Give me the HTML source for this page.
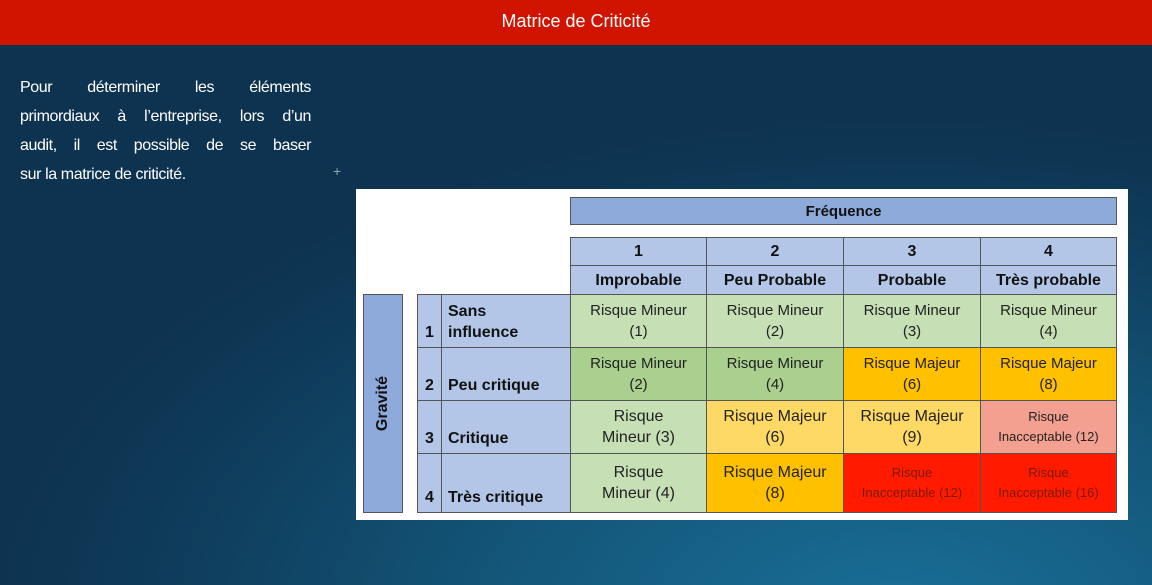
<!DOCTYPE html>
<html><head><meta charset="utf-8"><style>
*{margin:0;padding:0;box-sizing:border-box}
body{width:1152px;height:585px;overflow:hidden;position:relative;font-family:"Liberation Sans","DejaVu Sans",sans-serif;
background:radial-gradient(ellipse 900px 500px at 900px 620px,#1a6f98 0%,#135679 45%,#0f3d5c 80%,#0d3350 100%);}
.hdr{position:absolute;left:0;top:0;width:1152px;height:45px;background:#d01400;color:#fff;font-size:18px;text-align:center;line-height:42px}
.txt{position:absolute;left:20px;top:73px;width:291px;color:#fff;font-size:16px;line-height:29px;letter-spacing:-0.4px}
.txt div{text-align:justify;text-align-last:justify;white-space:nowrap}
.txt div.l{text-align-last:left}
.panel{position:absolute;left:356px;top:189px;width:772px;height:331px;background:#fff}
.c{position:absolute;display:flex;align-items:center;justify-content:center;text-align:center;color:#222;font-size:15px;line-height:21px;border:1px solid #555}
.b{font-weight:bold;color:#111}
.bl{background:#b4c6e7}
.g1{background:#c6dfb4}.g2{background:#a9d08e}.o{background:#ffc000}.y{background:#ffd966}.p{background:#f4a090}.r{background:#ff1a00;color:#7a1a00;font-size:13px;line-height:20px}
.rl{position:absolute;display:flex;align-items:flex-end;font-weight:bold;font-size:16px;color:#111;border:1px solid #555;background:#b4c6e7;padding:0 0 4px 6px;line-height:21px}
</style></head><body>
<div class="hdr">Matrice de Criticité</div>
<div class="txt"><div>Pour déterminer les éléments</div><div>primordiaux à l’entreprise, lors d’un</div><div>audit, il est possible de se baser</div><div class="l">sur la matrice de criticité.</div></div>
<div style="position:absolute;left:333px;top:163px;color:#8aa;font-size:14px">+</div>
<div class="panel"></div>
<div class="c b" style="left:570px;top:197px;width:547px;height:28px;background:#8eaadb;font-size:15px">Fréquence</div>
<div class="c b bl" style="left:570px;top:237px;width:137px;height:29px;font-size:16px">1</div>
<div class="c b bl" style="left:706px;top:237px;width:138px;height:29px;font-size:16px">2</div>
<div class="c b bl" style="left:843px;top:237px;width:138px;height:29px;font-size:16px">3</div>
<div class="c b bl" style="left:980px;top:237px;width:137px;height:29px;font-size:16px">4</div>
<div class="c b bl" style="left:570px;top:265px;width:137px;height:30px;font-size:16px">Improbable</div>
<div class="c b bl" style="left:706px;top:265px;width:138px;height:30px;font-size:16px">Peu Probable</div>
<div class="c b bl" style="left:843px;top:265px;width:138px;height:30px;font-size:16px">Probable</div>
<div class="c b bl" style="left:980px;top:265px;width:137px;height:30px;font-size:16px">Très probable</div>
<div class="c b" style="left:363px;top:294px;width:40px;height:219px;background:#8eaadb;font-size:16px"><span style="transform:rotate(-90deg);display:block;white-space:nowrap">Gravité</span></div>
<div class="rl" style="left:417px;top:294px;width:25px;height:54px;padding-left:7px">1</div>
<div class="rl" style="left:441px;top:294px;width:130px;height:54px">Sans<br>influence</div>
<div class="rl" style="left:417px;top:347px;width:25px;height:54px;padding-left:7px">2</div>
<div class="rl" style="left:441px;top:347px;width:130px;height:54px">Peu critique</div>
<div class="rl" style="left:417px;top:400px;width:25px;height:54px;padding-left:7px">3</div>
<div class="rl" style="left:441px;top:400px;width:130px;height:54px">Critique</div>
<div class="rl" style="left:417px;top:453px;width:25px;height:60px;padding-left:7px">4</div>
<div class="rl" style="left:441px;top:453px;width:130px;height:60px">Très critique</div>
<div class="c g1" style="left:570px;top:294px;width:137px;height:54px">Risque Mineur<br>(1)</div>
<div class="c g1" style="left:706px;top:294px;width:138px;height:54px">Risque Mineur<br>(2)</div>
<div class="c g1" style="left:843px;top:294px;width:138px;height:54px">Risque Mineur<br>(3)</div>
<div class="c g1" style="left:980px;top:294px;width:137px;height:54px">Risque Mineur<br>(4)</div>
<div class="c g2" style="left:570px;top:347px;width:137px;height:54px">Risque Mineur<br>(2)</div>
<div class="c g2" style="left:706px;top:347px;width:138px;height:54px">Risque Mineur<br>(4)</div>
<div class="c o" style="left:843px;top:347px;width:138px;height:54px">Risque Majeur<br>(6)</div>
<div class="c o" style="left:980px;top:347px;width:137px;height:54px">Risque Majeur<br>(8)</div>
<div class="c g1" style="left:570px;top:400px;width:137px;height:54px;font-size:16px">Risque<br>Mineur (3)</div>
<div class="c y" style="left:706px;top:400px;width:138px;height:54px;font-size:16px">Risque Majeur<br>(6)</div>
<div class="c y" style="left:843px;top:400px;width:138px;height:54px;font-size:16px">Risque Majeur<br>(9)</div>
<div class="c p" style="left:980px;top:400px;width:137px;height:54px;font-size:13px;line-height:20px">Risque<br>Inacceptable (12)</div>
<div class="c g1" style="left:570px;top:453px;width:137px;height:60px;font-size:16px">Risque<br>Mineur (4)</div>
<div class="c o" style="left:706px;top:453px;width:138px;height:60px;font-size:16px">Risque Majeur<br>(8)</div>
<div class="c r" style="left:843px;top:453px;width:138px;height:60px">Risque<br>Inacceptable (12)</div>
<div class="c r" style="left:980px;top:453px;width:137px;height:60px">Risque<br>Inacceptable (16)</div>
</body></html>
